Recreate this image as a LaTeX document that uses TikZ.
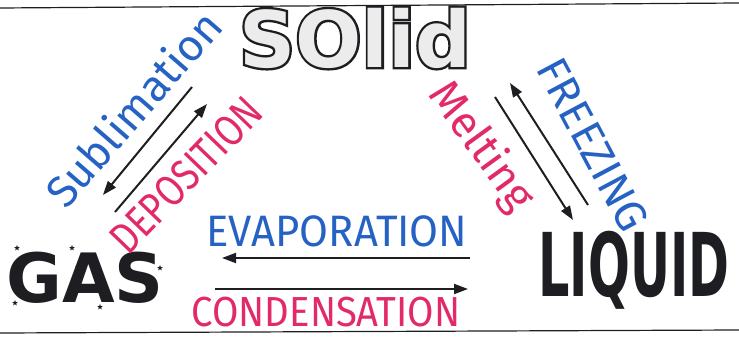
\documentclass[tikz,border=0pt]{standalone}
\usepackage{fontspec}
\setmainfont{Fira Sans}
\newfontfamily\blockfont{DejaVu Sans}
\newfontfamily\blockrim{DejaVu Sans Bold}[FakeBold=6]
\usetikzlibrary{arrows.meta, shapes.geometric}
\definecolor{bluepen}{RGB}{38,98,196}
\definecolor{pinkpen}{RGB}{226,42,104}
\definecolor{inkblack}{RGB}{30,30,34}
\definecolor{chalk}{RGB}{236,236,236}

\begin{document}
\begin{tikzpicture}[x=1pt, y=1pt,
    phase/.style={inner sep=0pt, text=inkblack, font=\blockfont\bfseries\fontsize{68}{68}\selectfont},
    solidtext/.style={inner sep=0pt, font=\blockfont\bfseries\fontsize{78}{78}\selectfont},
    bluetext/.style={inner sep=0pt, text=bluepen, font=\fontsize{44}{44}\selectfont, transform shape},
    pinktext/.style={inner sep=0pt, text=pinkpen, font=\fontsize{44}{44}\selectfont, transform shape},
    flow/.style={inkblack, line width=2pt, -{Triangle[length=14pt, width=10pt]}},
    sparkle/.style={star, star points=5, star point ratio=2.4, fill=inkblack, minimum size=6pt, inner sep=0pt},
    frame/.style={inkblack, line width=1.2pt}
]
    \useasboundingbox (0,0) rectangle (739,337);
    \draw[frame] (0,329) -- (739,334);
    \draw[frame] (0,4) -- (739,7);

    \node[solidtext, font=\blockrim\fontsize{78}{78}\selectfont, text=inkblack] (solidrim) at (355,299) {SOlid};
    \node[solidtext, text=chalk] (solid) at (355,299) {SOlid};
    \node[phase] (gas) at (85,59) {GAS};
    \node[phase, font=\blockfont\bfseries\fontsize{88}{88}\selectfont, xscale=0.56, transform shape] (liquid) at (634,67) {LIQUID};

    \foreach \x/\y [count=\i] in {17/89, 72/89, 78/70, 160/69, 147/44, 15/34, 100/30}
        \node[sparkle] (spark\i) at (\x,\y) {};

    \node[bluetext, rotate=49] (sublim) at (133,229) {Sublimation};
    \node[pinktext, rotate=46, xscale=0.82] (depos) at (186,162) {DEPOSITION};
    \node[pinktext, rotate=-54] (melt) at (481,190) {Melting};
    \node[bluetext, rotate=-62] (freeze) at (593,192) {FREEZING};
    \node[bluetext, xscale=0.95] (evap) at (337,106) {EVAPORATION};
    \node[pinktext, xscale=0.91, font=\fontsize{42}{42}\selectfont] (cond) at (326,25) {CONDENSATION};

    \coordinate (sublimtail) at (192,250);
    \coordinate (sublimhead) at (103,142);
    \coordinate (depostail) at (115,125);
    \coordinate (deposhead) at (207,233);
    \coordinate (melttail) at (495,240);
    \coordinate (melthead) at (573,117);
    \coordinate (freezetail) at (588,132);
    \coordinate (freezehead) at (510,254);
    \coordinate (evaptail) at (470,79);
    \coordinate (evaphead) at (222,79);
    \coordinate (condtail) at (215,48);
    \coordinate (condhead) at (468,48);

    \draw[flow] (sublimtail) -- (sublimhead);
    \draw[flow] (depostail) -- (deposhead);
    \draw[flow] (melttail) -- (melthead);
    \draw[flow] (freezetail) -- (freezehead);
    \draw[flow] (evaptail) -- (evaphead);
    \draw[flow] (condtail) -- (condhead);
\end{tikzpicture}
\end{document}
